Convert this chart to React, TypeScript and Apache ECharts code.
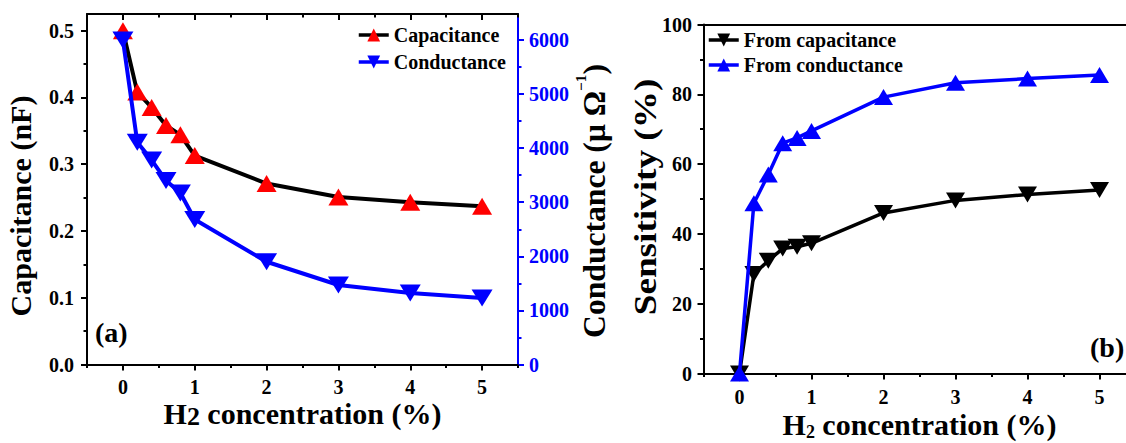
import React, { useEffect, useRef } from 'react';
import * as echarts from 'echarts';

// ---- data ----
const concentrations = [0, 0.2, 0.4, 0.6, 0.8, 1, 2, 3, 4, 5];
const capacitance = [0.5, 0.408, 0.385, 0.358, 0.344, 0.313, 0.271, 0.251, 0.243, 0.237];
const conductance = [6000, 4110, 3780, 3400, 3170, 2680, 1900, 1470, 1320, 1230];
const sensFromCapacitance = [0, 28.5, 32.3, 35.8, 36.3, 37.3, 46, 49.6, 51.3, 52.6];
const sensFromConductance = [0, 48.8, 57, 66, 67.5, 69.5, 79.2, 83.3, 84.5, 85.5];

// ---- tick labels ----
const xTicks = [0, 1, 2, 3, 4, 5];
const xMinorTicks = [-0.5, 0.5, 1.5, 2.5, 3.5, 4.5, 5.5];
const capTicks = [0, 0.1, 0.2, 0.3, 0.4, 0.5];
const capMinorTicks = [0.05, 0.15, 0.25, 0.35, 0.45];
const condTicks = [0, 1000, 2000, 3000, 4000, 5000, 6000];
const condMinorTicks = [500, 1500, 2500, 3500, 4500, 5500];
const sensTicks = [0, 20, 40, 60, 80, 100];
const sensMinorTicks = [10, 30, 50, 70, 90];

const legendA = ['Capacitance', 'Conductance'];
const legendB = ['From capacitance', 'From conductance'];

const FONT = 'Liberation Serif';
const DOWN_TRI = 'path://M0,0L2,0L1,2Z';

const tickFont = (color: string) => ({ fontFamily: FONT, fontWeight: 'bold', fontSize: 20, color });

function mainAxis(opts: any) {
  const { gridIndex, position, min, max, ticks, labels, color, inside, margin, fmt, name, nameGap, nameStyle } = opts;
  return {
    type: 'value',
    gridIndex,
    position,
    min,
    max,
    splitLine: { show: false },
    axisLine: { show: true, onZero: false, lineStyle: { color, width: 2 } },
    axisTick: ticks
      ? { show: true, inside: !!inside, length: 6, customValues: ticks, lineStyle: { color, width: 2 } }
      : { show: false },
    axisLabel: labels
      ? { show: true, customValues: labels, margin, formatter: fmt, ...tickFont(color) }
      : { show: false },
    name: name || '',
    nameLocation: 'middle',
    nameGap: nameGap || 0,
    nameMoveOverlap: false,
    nameTextStyle: nameStyle,
  };
}

function minorAxis(gridIndex: number, position: string, min: number, max: number, ticks: number[], color: string, inside = false) {
  return {
    type: 'value',
    gridIndex,
    position,
    min,
    max,
    splitLine: { show: false },
    axisLine: { show: false, onZero: false },
    axisTick: { show: true, inside, length: 3.5, customValues: ticks, lineStyle: { color, width: 2 } },
    axisLabel: { show: false },
  };
}

// x-axis title: subscript "2" lowered by (lineHeight - subSize) / 2
const xTitleStyle = (lineHeight: number, subSize: number) => ({
  fontFamily: FONT,
  fontWeight: 'bold',
  fontSize: 30,
  lineHeight,
  color: '#000',
  rich: {
    sub: { fontFamily: FONT, fontWeight: 'bold', fontSize: subSize, lineHeight: subSize, verticalAlign: 'bottom', color: '#000' },
  },
});

function yTitle(text: string, x: number, y: number, size: number, stretch: number, extra: any = {}) {
  return {
    type: 'text',
    x,
    y,
    rotation: Math.PI / 2,
    scaleX: stretch,
    scaleY: 1,
    style: {
      text,
      font: `bold ${size}px "${FONT}"`,
      fill: '#000',
      align: 'center',
      verticalAlign: 'middle',
      textAlign: 'center',
      textVerticalAlign: 'middle',
      ...extra,
    },
  };
}

export default function App() {
  const ref = useRef<HTMLDivElement>(null);

  useEffect(() => {
    if (!ref.current) return;
    const chart = echarts.init(ref.current, null, { renderer: 'svg' });

    const option: any = {
      animation: false,
      backgroundColor: '#fff',
      grid: [
        { left: 87, top: 14, width: 431, height: 350.5, containLabel: false, outerBoundsMode: 'none' },
        { left: 703.5, top: 24.5, width: 432, height: 349, containLabel: false, outerBoundsMode: 'none' },
      ],
      xAxis: [
        mainAxis({
          gridIndex: 0, position: 'bottom', min: -0.5, max: 5.5, ticks: xTicks, labels: xTicks, color: '#000', margin: 12,
          fmt: (v: number) => String(v),
          name: 'H{sub|2} concentration (%)', nameGap: 32.5, nameStyle: xTitleStyle(32, 26),
        }),
        minorAxis(0, 'bottom', -0.5, 5.5, xMinorTicks, '#000'),
        mainAxis({ gridIndex: 0, position: 'top', min: -0.5, max: 5.5, ticks: xTicks, color: '#000', inside: true }),
        minorAxis(0, 'top', -0.5, 5.5, xMinorTicks, '#000', true),
        mainAxis({
          gridIndex: 1, position: 'bottom', min: -0.5, max: 5.5, ticks: xTicks, labels: xTicks, color: '#000', margin: 13,
          fmt: (v: number) => String(v),
          name: 'H{sub|2} concentration (%)', nameGap: 33.5, nameStyle: xTitleStyle(34, 18),
        }),
        minorAxis(1, 'bottom', -0.5, 5.5, xMinorTicks, '#000'),
        mainAxis({ gridIndex: 1, position: 'top', min: -0.5, max: 5.5, color: '#000' }),
      ],
      yAxis: [
        mainAxis({
          gridIndex: 0, position: 'left', min: 0, max: 0.525, ticks: capTicks, labels: capTicks, color: '#000', margin: 13,
          fmt: (v: number) => v.toFixed(1),
        }),
        minorAxis(0, 'left', 0, 0.525, capMinorTicks, '#000'),
        mainAxis({
          gridIndex: 0, position: 'right', min: 0, max: 6480, ticks: condTicks, labels: condTicks, color: '#0000ff', margin: 11,
          fmt: (v: number) => String(v),
        }),
        minorAxis(0, 'right', 0, 6480, condMinorTicks, '#0000ff'),
        mainAxis({
          gridIndex: 1, position: 'left', min: 0, max: 100, ticks: sensTicks, labels: sensTicks, color: '#000', margin: 11.5,
          fmt: (v: number) => String(v),
        }),
        minorAxis(1, 'left', 0, 100, sensMinorTicks, '#000'),
      ],
      legend: [
        {
          data: legendA,
          orient: 'vertical',
          left: 352,
          top: 20,
          itemWidth: 30,
          itemHeight: 16,
          itemGap: 7,
          itemTextGap: 3,
          selectedMode: false,
          textStyle: { fontFamily: FONT, fontWeight: 'bold', fontSize: 20, color: '#000' },
          lineStyle: { width: 3.5 },
        },
        {
          data: legendB,
          orient: 'vertical',
          left: 702,
          top: 25,
          itemWidth: 30,
          itemHeight: 16,
          itemGap: 5,
          itemTextGap: 3,
          selectedMode: false,
          textStyle: { fontFamily: FONT, fontWeight: 'bold', fontSize: 20, color: '#000' },
          lineStyle: { width: 3.5 },
        },
      ],
      graphic: [
        yTitle('Capacitance (nF)', 20, 206, 30, 1),
        yTitle('Conductance (μ Ω{sup|−1})', 595, 201, 31, 1.02, {
          lineHeight: 44,
          rich: {
            sup: { font: `bold 15px "${FONT}"`, fill: '#000', lineHeight: 15, verticalAlign: 'top' },
          },
        }),
        yTitle('Sensitivity (%)', 645.5, 197, 31, 1.2),
        { type: 'text', left: 95, top: 318, style: { text: '(a)', font: `bold 28px "${FONT}"`, fill: '#000' } },
        { type: 'text', left: 1090, top: 333, style: { text: '(b)', font: `bold 28px "${FONT}"`, fill: '#000' } },
      ],
      series: [
        {
          name: legendA[0],
          type: 'line',
          xAxisIndex: 0,
          yAxisIndex: 0,
          data: concentrations.map((x, i) => [x, capacitance[i]]),
          symbol: 'triangle',
          symbolSize: [20, 17],
          itemStyle: { color: '#ff0000' },
          lineStyle: { color: '#000', width: 4 },
          clip: false,
          z: 2,
        },
        {
          name: legendA[1],
          type: 'line',
          xAxisIndex: 0,
          yAxisIndex: 2,
          data: concentrations.map((x, i) => [x, conductance[i]]),
          symbol: DOWN_TRI,
          symbolSize: [21, 17],
          itemStyle: { color: '#0000ff' },
          lineStyle: { color: '#0000ff', width: 4 },
          clip: false,
          z: 3,
        },
        {
          name: legendB[0],
          type: 'line',
          xAxisIndex: 4,
          yAxisIndex: 4,
          data: concentrations.map((x, i) => [x, sensFromCapacitance[i]]),
          symbol: DOWN_TRI,
          symbolSize: [19, 16],
          itemStyle: { color: '#000' },
          lineStyle: { color: '#000', width: 3.5 },
          clip: false,
          z: 2,
        },
        {
          name: legendB[1],
          type: 'line',
          xAxisIndex: 4,
          yAxisIndex: 4,
          data: concentrations.map((x, i) => [x, sensFromConductance[i]]),
          symbol: 'triangle',
          symbolSize: [19, 16],
          itemStyle: { color: '#0000ff' },
          lineStyle: { color: '#0000ff', width: 3.5 },
          clip: false,
          z: 3,
        },
      ],
    };

    chart.setOption(option);
    return () => chart.dispose();
  }, []);

  return (
    <div
      ref={ref}
      style={{ position: 'fixed', left: 0, top: 0, width: 1126, height: 443, background: '#fff' }}
    />
  );
}
